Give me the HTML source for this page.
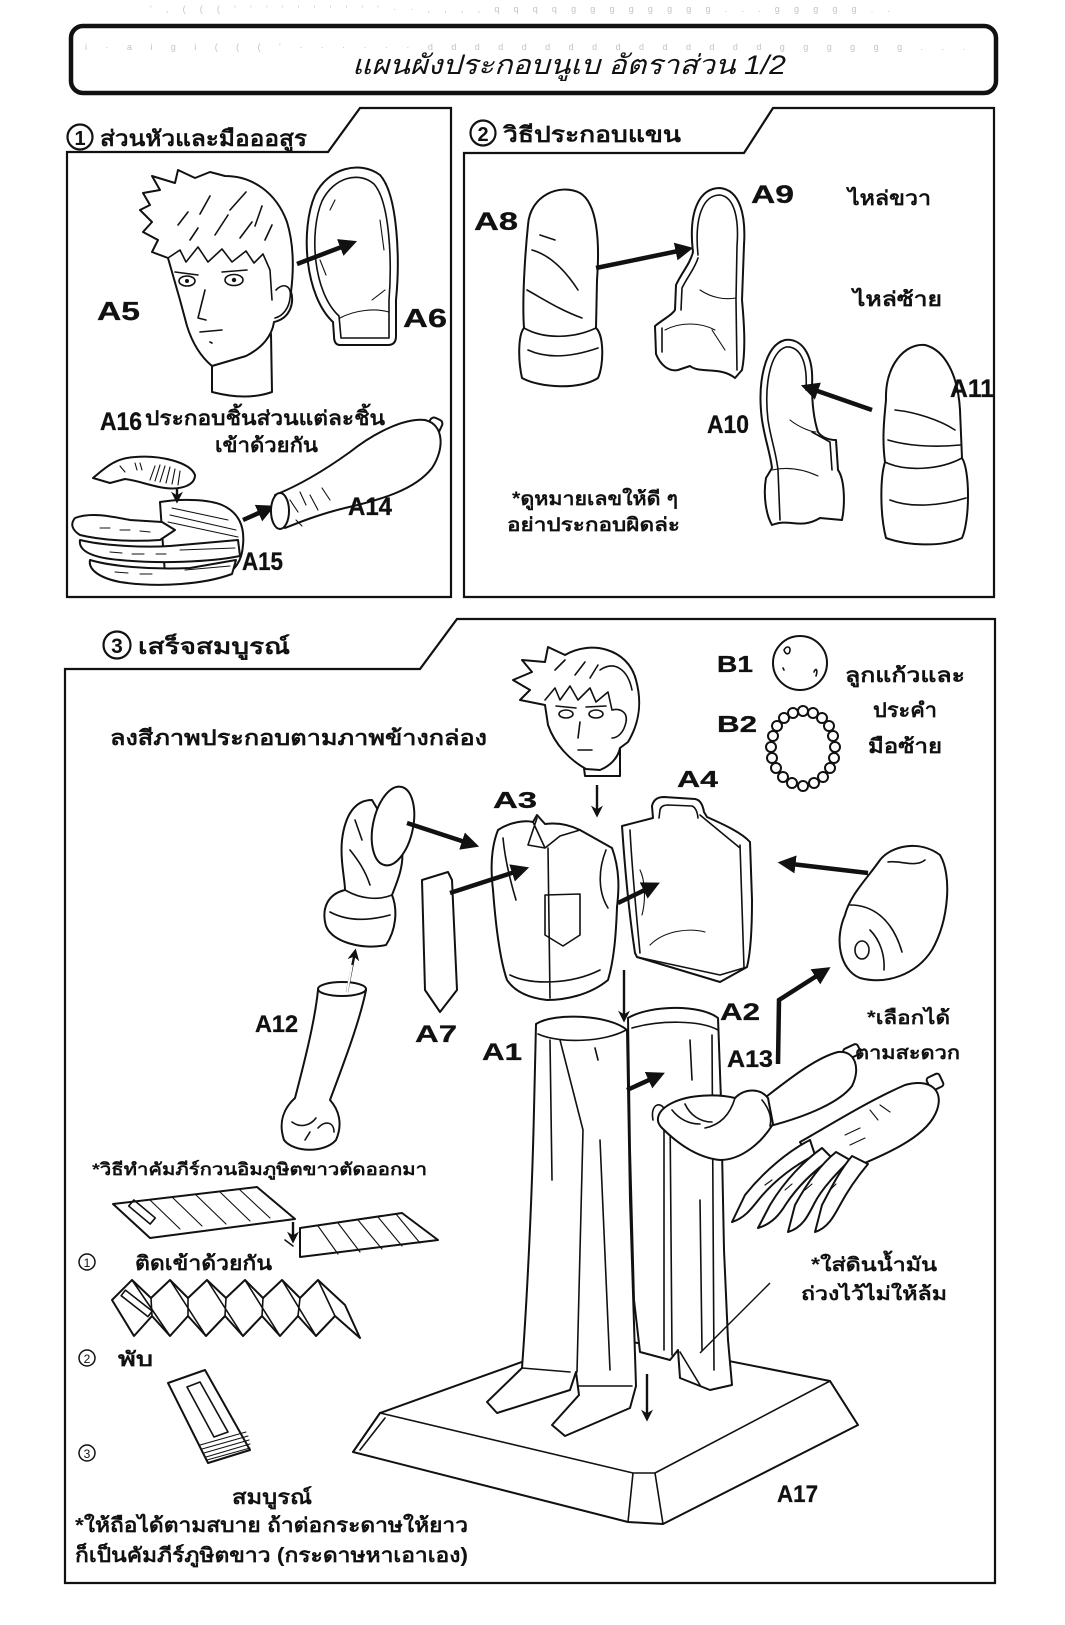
<!DOCTYPE html>
<html><head><meta charset="utf-8"><style>
html,body{margin:0;padding:0;background:#fff;}
svg{display:block;}
.t{font-family:"Liberation Sans","DejaVu Sans","Noto Sans CJK SC",sans-serif;font-weight:bold;fill:#111;}
.l{font-family:"Liberation Sans","DejaVu Sans",sans-serif;font-weight:bold;fill:#111;stroke:#111;stroke-width:0.3;}
.d{fill:#fff;stroke:#111;stroke-width:2;stroke-linejoin:round;stroke-linecap:round;}
.n{fill:none;stroke:#111;stroke-width:1.6;stroke-linecap:round;stroke-linejoin:round;}
.h{fill:none;stroke:#111;stroke-width:1.1;stroke-linecap:round;}
.a{fill:none;stroke:#111;stroke-width:4.5;stroke-linecap:butt;}
.at{fill:none;stroke:#111;stroke-width:2.4;}
</style></head><body>
<svg width="1065" height="1625" viewBox="0 0 1065 1625" xmlns="http://www.w3.org/2000/svg">
<defs>
<marker id="ah" viewBox="0 0 10 10" refX="7" refY="5" markerWidth="4" markerHeight="4" orient="auto"><path d="M0,0 L10,5 L0,10 Z" fill="#111"/></marker>
<marker id="ah2" viewBox="0 0 10 10" refX="7" refY="5" markerWidth="5" markerHeight="5" orient="auto"><path d="M0,0 L10,5 L0,10 L3,5 Z" fill="#111"/></marker>
</defs>
<rect width="1065" height="1625" fill="#fff"/>

<!-- faint bleed-through marks -->
<g fill="#c4c4c4" font-family="Liberation Sans" font-size="9">
<text x="150" y="12" textLength="740" lengthAdjust="spacing">'  ,  ( ( ( ' ' ' ' ' ' ' ' '   '   ·  ·  , , , , q q q q g g g g g g g g   . . .   g g g g g   . .</text>
<text x="85" y="50" textLength="880" lengthAdjust="spacing">i  · a i g i  ( ( ( '  · ·  ·   ·  ·   · d d d d d d d d d d d d d d d  g g g g g g  . . .</text>
</g>

<!-- Title box -->
<rect x="71" y="26" width="925" height="67" rx="12" ry="12" fill="none" stroke="#111" stroke-width="4.5"/>
<text x="352" y="74" font-family="Liberation Sans,DejaVu Sans,sans-serif" font-style="italic" font-size="27" fill="#111" textLength="434" lengthAdjust="spacingAndGlyphs">แผนผังประกอบนูเบ อัตราส่วน 1/2</text>

<!-- Panel frames -->
<path d="M67,152 L328,152 L360,108 L451,108 L451,597 L67,597 Z" fill="none" stroke="#111" stroke-width="2.2"/>
<path d="M464,153 L744,153 L773,108 L994,108 L994,597 L464,597 Z" fill="none" stroke="#111" stroke-width="2.2"/>
<path d="M65,669 L420,669 L457,619 L995,619 L995,1583 L65,1583 Z" fill="none" stroke="#111" stroke-width="2.2"/>

<!-- headers -->
<circle cx="80" cy="137" r="12.5" fill="none" stroke="#111" stroke-width="2.2"/>
<text x="80" y="145" text-anchor="middle" class="t" font-size="20" font-weight="normal">1</text>
<text x="100" y="146" class="t" font-size="22" textLength="207" lengthAdjust="spacingAndGlyphs">ส่วนหัวและมือออสูร</text>
<circle cx="483" cy="133" r="12.5" fill="none" stroke="#111" stroke-width="2.2"/>
<text x="483" y="141" text-anchor="middle" class="t" font-size="20" font-weight="normal">2</text>
<text x="503" y="142" class="t" font-size="22" textLength="178" lengthAdjust="spacingAndGlyphs">วิธีประกอบแขน</text>
<circle cx="117" cy="645" r="13.5" fill="none" stroke="#111" stroke-width="2.2"/>
<text x="117" y="653" text-anchor="middle" class="t" font-size="21" font-weight="normal">3</text>
<text x="138" y="654" class="t" font-size="22" textLength="152" lengthAdjust="spacingAndGlyphs">เสร็จสมบูรณ์</text>

<!-- ===== PANEL 1 ===== -->
<g>
<path class="d" d="M212,362 L212,392 C235,398 255,398 272,392 L271,334 Z"/>
<path class="d" d="M143,193 L160,190 L152,176 L175,183 L178,170 L195,178 L210,172 L225,176 C252,176 276,192 287,222 C294,245 294,268 291,292 C294,300 292,318 274,322 C272,336 262,348 246,356 L212,366 C200,356 192,342 187,326 L180,300 L172,272 L168,258 L152,252 L158,240 L143,232 L152,222 L140,210 L150,205 Z"/>
<path class="n" d="M168,258 L180,250 L186,262 L198,247 L208,262 L222,249 L232,262 L246,251 L254,263 L263,254 L270,270 L272,300"/>
<path class="n" d="M200,214 L210,196 M230,210 L246,192 M255,226 L262,206 M178,225 L188,212 M215,235 L228,215 M240,238 L252,222 M190,240 L198,228 M265,240 L272,225"/>
<path class="n" d="M276,290 C284,282 292,286 290,298 C289,308 283,316 275,318"/>
<ellipse cx="187" cy="281" rx="8" ry="5" class="n"/><circle cx="187" cy="281" r="2" fill="#111"/>
<ellipse cx="234" cy="280" rx="9" ry="5.5" class="n"/><circle cx="234" cy="280" r="2.2" fill="#111"/>
<path class="n" d="M175,272 L198,275 M222,272 L247,270 M205,290 L198,318 L206,320 M200,332 L222,330 M210,342 L212,343"/>
</g>
<path class="d" d="M333,322 C305,296 300,230 315,195 C328,168 360,160 380,175 C398,195 400,260 396,300 L396,336 Q396,345 388,345 L340,345 Q334,345 334,336 Z"/>
<path class="n" d="M339,316 C313,292 309,232 322,201 C334,177 359,171 374,184 C390,202 392,262 389,300 L389,338 L341,338 Z"/>
<path class="h" d="M340,318 C355,310 375,308 389,312 M330,210 L335,200 M380,220 L384,250 M372,300 L385,290 M320,260 L326,275"/>
<line x1="297" y1="264" x2="352" y2="243" class="a" marker-end="url(#ah)"/>
<text x="97" y="320" class="l" font-size="26" textLength="43" lengthAdjust="spacingAndGlyphs">A5</text>
<text x="403" y="327" class="l" font-size="26" textLength="44" lengthAdjust="spacingAndGlyphs">A6</text>

<text x="100" y="430" class="l" font-size="25" textLength="42" lengthAdjust="spacingAndGlyphs">A16</text>
<text x="145" y="425" class="t" font-size="20" textLength="240" lengthAdjust="spacingAndGlyphs">ประกอบชิ้นส่วนแต่ละชิ้น</text>
<text x="215" y="452" class="t" font-size="20" textLength="103" lengthAdjust="spacingAndGlyphs">เข้าด้วยกัน</text>

<!-- A15 claw hand -->
<g>
<path class="d" d="M160,502 C185,498 210,500 222,505 C238,512 245,525 243,545 C242,560 236,572 218,578 C200,584 180,580 165,575 Z"/>
<path class="d" d="M75,518 C90,512 110,516 130,520 L162,522 L175,530 L160,540 C130,542 100,540 80,535 C72,530 70,524 75,518 Z"/>
<path class="d" d="M80,540 C100,545 140,548 170,546 L238,540 L240,556 C210,562 160,564 120,560 C95,558 78,552 80,540 Z"/>
<path class="d" d="M90,560 C110,566 150,570 190,568 L236,560 L232,574 C205,584 160,588 120,582 C100,578 88,570 90,560 Z"/>
<path class="d" d="M93,478 C105,468 115,458 135,457 C160,455 190,462 195,475 C195,485 182,490 165,488 C150,486 140,481 125,479 L110,483 Z"/>
<path class="h" d="M155,466 L150,480 M160,465 L155,481 M165,466 L160,482 M170,467 L166,483 M175,469 L172,484 M180,471 L178,485 M120,466 L125,472 M135,463 L137,470 M140,463 L142,470"/>
<path class="h" d="M170,515 L236,530 M168,522 L238,537 M172,508 L228,520 M100,528 L110,528 M120,530 L130,530 M140,531 L150,532 M110,552 L122,553 M132,554 L144,554 M156,554 L166,554 M180,550 L235,548 M115,572 L128,573 M140,574 L152,574 M185,570 L230,566"/>
<line x1="177" y1="488" x2="177" y2="500" class="at" marker-end="url(#ah2)"/>
</g>
<line x1="243" y1="520" x2="270" y2="508" class="a" marker-end="url(#ah)"/>
<g>
<rect x="428" y="418" width="13" height="16" rx="4" transform="rotate(25 434 426)" class="d"/>
<path class="d" d="M275,495 C300,485 325,470 350,452 C375,432 405,418 425,420 C445,425 444,450 432,468 C415,490 380,500 345,508 C320,514 300,522 285,528 Z"/>
<ellipse cx="280" cy="511" rx="9" ry="18" class="d"/>
<path class="h" d="M290,500 L298,512 M300,492 L306,505 M310,495 L318,510 M322,488 L330,500 M296,520 L302,526"/>
</g>
<text x="348" y="515" class="l" font-size="25" textLength="44" lengthAdjust="spacingAndGlyphs">A14</text>
<text x="242" y="570" class="l" font-size="25" textLength="41" lengthAdjust="spacingAndGlyphs">A15</text>

<!-- ===== PANEL 2 ===== -->
<text x="474" y="230" class="l" font-size="25" textLength="44" lengthAdjust="spacingAndGlyphs">A8</text>
<path class="d" d="M528,225 C530,195 560,183 580,193 C597,203 600,240 597,280 L596,328 C604,335 604,365 598,378 C580,390 540,388 522,378 C518,360 518,335 524,328 C522,300 525,255 528,225 Z"/>
<path class="n" d="M524,328 C545,340 575,338 596,328 M532,250 C550,255 565,270 578,290 M527,290 C545,300 560,310 582,318 M528,350 C550,360 575,356 598,348 M540,235 L555,240"/>
<line x1="596" y1="268" x2="688" y2="249" class="a" marker-end="url(#ah)"/>
<path class="d" d="M693,252 C688,210 700,188 720,188 C740,190 746,215 744,245 L742,300 C744,322 746,350 742,370 L735,378 C720,366 700,374 690,366 L678,370 C668,372 660,364 656,354 L655,326 C665,318 672,315 675,310 L676,285 C682,272 690,264 693,252 Z"/>
<path class="n" d="M698,255 C694,215 704,195 720,195 C735,197 739,220 737,246 L736,300 L737,370 M681,310 L682,288 C688,276 695,268 698,258 M662,328 L662,352"/>
<path class="h" d="M665,330 C680,322 700,322 715,330 M700,290 C712,298 725,300 736,298 M712,330 L725,350"/>
<text x="751" y="203" class="l" font-size="25" textLength="43" lengthAdjust="spacingAndGlyphs">A9</text>
<text x="848" y="205" class="t" font-size="20" textLength="83" lengthAdjust="spacingAndGlyphs">ไหล่ขวา</text>
<text x="853" y="306" class="t" font-size="20" textLength="89" lengthAdjust="spacingAndGlyphs">ไหล่ซ้าย</text>
<path class="d" d="M812,385 C814,352 800,338 785,340 C765,345 757,382 762,420 C765,440 770,452 772,468 L766,478 C763,495 766,515 772,525 C790,518 800,530 820,518 L842,520 C845,505 845,480 838,470 L836,440 C830,440 822,438 818,432 C814,420 812,405 812,385 Z"/>
<path class="n" d="M806,390 C808,358 798,346 786,347 C770,352 764,385 768,420 C771,440 776,452 778,470 L780,520 M812,432 L830,442 L832,470"/>
<path class="h" d="M772,470 C790,466 805,470 818,476 M790,420 C800,428 812,432 816,432"/>
<line x1="872" y1="410" x2="806" y2="387" class="a" marker-end="url(#ah)"/>
<text x="707" y="433" class="l" font-size="25" textLength="42" lengthAdjust="spacingAndGlyphs">A10</text>
<path class="d" d="M886,400 C885,365 905,343 925,345 C945,350 958,375 960,410 L962,458 C970,470 970,520 962,538 C940,548 905,545 886,538 C880,515 880,478 885,462 C882,440 884,420 886,400 Z"/>
<path class="n" d="M885,462 C905,472 940,470 962,458 M895,410 C915,412 940,420 955,430 M888,440 C905,445 930,448 960,445 M890,500 C910,508 940,506 966,498"/>
<text x="950" y="397" class="l" font-size="25" textLength="44" lengthAdjust="spacingAndGlyphs">A11</text>
<text x="512" y="505" class="t" font-size="19" textLength="166" lengthAdjust="spacingAndGlyphs">*ดูหมายเลขให้ดี ๆ</text>
<text x="507" y="531" class="t" font-size="19" textLength="173" lengthAdjust="spacingAndGlyphs">อย่าประกอบผิดล่ะ</text>

<!-- ===== PANEL 3 ===== -->
<text x="110" y="745" class="t" font-size="21" textLength="377" lengthAdjust="spacingAndGlyphs">ลงสีภาพประกอบตามภาพข้างกล่อง</text>

<g>
<path class="d" d="M583,760 L585,776 L620,776 L620,745 Z"/>
<path class="d" d="M520,700 L530,690 L513,680 L532,672 L522,660 L545,662 L548,647 L565,655 C590,640 628,648 636,680 C642,702 640,722 628,742 L620,748 C618,758 610,766 600,770 L586,769 C570,760 555,745 548,725 L545,705 Z"/>
<path class="n" d="M545,700 L555,688 L560,700 L570,686 L578,700 L590,688 L596,702 L608,692 L612,710 M612,710 C620,708 628,712 626,722 C624,732 618,738 612,738 M600,670 C615,660 628,670 632,690 M555,670 L565,660 M575,675 L585,662 M590,678 L598,665"/>
<ellipse cx="566" cy="714" rx="7" ry="4" class="n"/><ellipse cx="596" cy="714" rx="7" ry="4" class="n"/>
<path class="n" d="M556,706 L576,708 M586,707 L606,706 M580,722 L578,738 M578,750 L592,750"/>
</g>
<text x="493" y="808" class="l" font-size="23" textLength="44" lengthAdjust="spacingAndGlyphs">A3</text>
<text x="677" y="787" class="l" font-size="23" textLength="41" lengthAdjust="spacingAndGlyphs">A4</text>
<text x="717" y="672" class="l" font-size="23" textLength="36" lengthAdjust="spacingAndGlyphs">B1</text>
<circle cx="800" cy="663" r="27" class="d"/>
<path class="n" d="M784,650 C786,646 790,646 790,650 C790,654 786,656 784,650 M814,672 C816,667 818,670 816,676 M783,668 L784,670"/>
<text x="717" y="732" class="l" font-size="23" textLength="40" lengthAdjust="spacingAndGlyphs">B2</text>
<g class="d" stroke-width="1.6">
<circle cx="803" cy="711" r="5"/><circle cx="813" cy="713" r="5"/><circle cx="822" cy="718" r="5"/><circle cx="829" cy="726" r="5"/><circle cx="833" cy="736" r="5"/><circle cx="835" cy="747" r="5"/><circle cx="834" cy="758" r="5"/><circle cx="830" cy="768" r="5"/><circle cx="823" cy="777" r="5"/><circle cx="814" cy="783" r="5"/><circle cx="803" cy="786" r="5"/><circle cx="792" cy="783" r="5"/><circle cx="783" cy="777" r="5"/><circle cx="776" cy="768" r="5"/><circle cx="772" cy="758" r="5"/><circle cx="771" cy="747" r="5"/><circle cx="773" cy="736" r="5"/><circle cx="777" cy="726" r="5"/><circle cx="784" cy="718" r="5"/><circle cx="793" cy="713" r="5"/>
</g>
<text x="845" y="682" class="t" font-size="20" textLength="120" lengthAdjust="spacingAndGlyphs">ลูกแก้วและ</text>
<text x="873" y="717" class="t" font-size="20" textLength="64" lengthAdjust="spacingAndGlyphs">ประคำ</text>
<text x="868" y="753" class="t" font-size="20" textLength="74" lengthAdjust="spacingAndGlyphs">มือซ้าย</text>

<!-- left sleeve -->
<g>
<path class="d" d="M372,800 C355,800 345,815 342,840 C340,860 345,880 345,890 C328,894 321,908 326,926 C332,942 362,950 386,945 C396,930 398,910 392,895 C398,880 404,865 402,850 Z"/>
<ellipse cx="393" cy="826" rx="20" ry="40" transform="rotate(12 393 826)" class="d"/>
<path class="n" d="M345,890 C362,900 380,900 392,895 M350,850 C358,860 365,870 370,885 M355,820 L362,840 M330,912 C345,920 365,922 390,915"/>
</g>
<path class="d" d="M422,880 L448,872 L452,880 L457,990 L440,1012 L425,990 Z"/>
<!-- A3 shirt -->
<g>
<path class="d" d="M498,830 C510,822 525,820 533,822 L537,815 L545,824 C560,822 572,826 580,830 L612,848 C620,870 619,890 617,907 C616,935 614,960 608,980 C590,995 565,1000 547,1000 C530,998 515,992 507,980 C500,960 496,930 493,890 C490,865 492,845 498,830 Z"/>
<path class="n" d="M533,822 L545,848 L560,836 L580,830 M537,818 L528,845 L545,848 M548,848 L550,998 M545,895 L580,894 L580,935 L563,946 L545,935 Z M503,838 C505,860 510,880 516,900 M606,850 C598,870 598,892 608,908 M510,975 C530,985 570,985 600,970"/>
</g>
<!-- A4 shell -->
<g>
<path class="d" d="M622,826 L653,818 L652,806 Q654,797 664,797 L695,799 Q702,800 704,812 L707,817 C725,825 742,833 750,842 L752,900 C752,935 750,955 747,967 L720,982 L637,957 L635,953 C630,920 625,870 622,826 Z"/>
<path class="n" d="M659,818 L660,810 Q661,805 668,805 L692,806 Q697,808 698,818 M630,830 C632,870 636,910 640,953 M740,845 L744,968 M637,957 L720,975 L747,967 M700,815 L740,848"/>
<path class="h" d="M650,945 C665,930 690,928 705,932 M640,870 C645,880 646,900 642,915"/>
</g>
<!-- right sleeve -->
<g>
<path class="d" d="M880,860 C892,845 920,840 940,855 C952,875 949,920 932,950 C916,975 886,985 860,978 C840,970 834,940 845,915 C850,895 866,880 880,860 Z"/>
<path class="n" d="M850,905 C872,905 892,918 902,952 M888,862 C900,860 915,868 925,860 M870,930 C880,940 885,955 884,970"/>
<ellipse cx="862" cy="950" rx="7" ry="9" class="n"/>
</g>

<!-- A12 forearm -->
<g>
<path class="d" d="M318,990 C315,1020 305,1060 295,1098 C284,1108 278,1122 284,1140 C294,1153 325,1153 336,1140 C343,1124 339,1110 330,1100 C345,1060 360,1020 366,990 Z"/>
<ellipse cx="342" cy="989" rx="24" ry="7" class="d"/>
<path class="n" d="M292,1122 C300,1128 310,1126 316,1118 M318,1128 C325,1120 334,1122 334,1132 M305,1140 L310,1132"/>
</g>
<text x="255" y="1032" class="l" font-size="24" textLength="43" lengthAdjust="spacingAndGlyphs">A12</text>
<text x="415" y="1042" class="l" font-size="24" textLength="42" lengthAdjust="spacingAndGlyphs">A7</text>
<text x="482" y="1060" class="l" font-size="24" textLength="40" lengthAdjust="spacingAndGlyphs">A1</text>
<text x="720" y="1020" class="l" font-size="24" textLength="40" lengthAdjust="spacingAndGlyphs">A2</text>
<text x="727" y="1067" class="l" font-size="24" textLength="46" lengthAdjust="spacingAndGlyphs">A13</text>

<!-- base A17 -->
<path class="d" d="M380,1413 L597,1335 L830,1381 L858,1425 L663,1524 L628,1522 L353,1452 Z"/>
<path class="n" d="M380,1413 L633,1473 L655,1473 L830,1381 M633,1473 L628,1522 M655,1473 L663,1524 M380,1413 L353,1452 M830,1381 L858,1425 M385,1418 L360,1450"/>
<text x="777" y="1502" class="l" font-size="24" textLength="41" lengthAdjust="spacingAndGlyphs">A17</text>

<!-- A2 back pants -->
<g>
<path class="d" d="M628,1018 C650,1005 700,1004 718,1018 L721,1100 L724,1250 L728,1340 L732,1385 L710,1390 L680,1378 L678,1350 L670,1360 L640,1352 L634,1300 L630,1150 Z"/>
<path class="n" d="M632,1028 C660,1020 700,1020 718,1030 M712,1035 L714,1370 M664,1110 L664,1350 M670,1110 L672,1355 M653,1120 C650,1105 660,1100 665,1110 M690,1040 L692,1080 M700,1200 L702,1350 M680,1352 L700,1385"/>
</g>
<!-- A1 front pants -->
<g>
<path class="d" d="M536,1024 L534,1110 C532,1200 527,1300 522,1368 L487,1402 L497,1413 L570,1390 L576,1372 L579,1395 L552,1425 L565,1436 L630,1408 L636,1386 L630,1200 L627,1030 C610,1015 555,1012 536,1024 Z"/>
<path class="n" d="M538,1034 C560,1044 605,1042 626,1030 M583,1130 L577,1372 M550,1040 L552,1180 M560,1040 C565,1060 570,1080 583,1130 M595,1048 L598,1060 M600,1140 C602,1200 606,1280 610,1370 M522,1368 L570,1372 M579,1386 L632,1386"/>
</g>

<!-- A13 open hand -->
<g>
<rect x="844" y="1046" width="16" height="11" rx="3" transform="rotate(-25 852 1052)" class="d"/>
<path class="d" d="M762,1100 C788,1080 815,1058 838,1052 C855,1050 861,1068 852,1086 C840,1102 808,1116 770,1126 Z"/>
<path class="d" d="M768,1098 C760,1088 745,1088 735,1098 C718,1094 690,1094 672,1103 C658,1110 654,1120 662,1128 C680,1146 700,1158 720,1160 C742,1160 762,1142 773,1124 Z"/>
<path class="n" d="M762,1100 C770,1110 772,1118 770,1126 M672,1110 C680,1120 690,1124 700,1124 M685,1104 C690,1115 700,1122 712,1122 M735,1098 C730,1115 720,1125 705,1128"/>
</g>
<!-- A16 claw -->
<g>
<rect x="928" y="1075" width="14" height="14" rx="3" transform="rotate(-25 935 1082)" class="d"/>
<path class="d" d="M800,1142 C830,1125 870,1100 905,1085 C930,1078 944,1090 937,1110 C928,1136 890,1152 858,1166 L815,1168 Z"/>
<path class="d" d="M810,1140 C790,1150 765,1170 745,1195 L732,1222 C745,1218 752,1208 760,1198 C775,1180 795,1165 815,1155 Z"/>
<path class="d" d="M822,1148 C805,1160 785,1180 770,1205 L758,1228 C772,1224 780,1214 786,1204 C798,1186 815,1170 832,1158 Z"/>
<path class="d" d="M836,1152 C820,1165 806,1185 795,1205 L788,1232 C802,1228 808,1216 814,1204 C822,1188 838,1172 850,1160 Z"/>
<path class="d" d="M852,1156 C840,1170 830,1190 822,1205 L815,1232 C828,1228 834,1216 840,1205 C848,1190 858,1176 868,1164 Z"/>
<path class="h" d="M765,1185 L772,1180 M785,1190 L792,1184 M805,1190 L812,1184 M830,1190 L836,1184 M845,1135 L860,1128 M850,1145 L865,1138 M870,1110 L878,1120 M880,1105 L890,1112"/>
</g>
<text x="867" y="1024" class="t" font-size="19" textLength="83" lengthAdjust="spacingAndGlyphs">*เลือกได้</text>
<text x="855" y="1059" class="t" font-size="19" textLength="105" lengthAdjust="spacingAndGlyphs">ตามสะดวก</text>

<text x="811" y="1271" class="t" font-size="19" textLength="126" lengthAdjust="spacingAndGlyphs">*ใส่ดินน้ำมัน</text>
<text x="801" y="1300" class="t" font-size="19" textLength="146" lengthAdjust="spacingAndGlyphs">ถ่วงไว้ไม่ให้ล้ม</text>
<line x1="770" y1="1283" x2="700" y2="1353" stroke="#111" stroke-width="1.5"/>

<!-- panel 3 arrows (on top) -->
<line x1="597" y1="785" x2="597" y2="814" class="at" marker-end="url(#ah2)"/>
<line x1="407" y1="823" x2="474" y2="845" class="a" marker-end="url(#ah)"/>
<line x1="450" y1="893" x2="524" y2="869" class="a" marker-end="url(#ah)"/>
<line x1="618" y1="903" x2="655" y2="885" class="a" marker-end="url(#ah)"/>
<line x1="868" y1="873" x2="783" y2="863" class="a" marker-end="url(#ah)"/>
<line x1="347" y1="992" x2="355" y2="952" class="at" stroke-width="5" marker-end="url(#ah2)"/>
<line x1="347" y1="992" x2="352" y2="965" stroke="#fff" stroke-width="2"/>
<line x1="624" y1="970" x2="624" y2="1019" class="at" marker-end="url(#ah2)"/>
<line x1="627" y1="1090" x2="660" y2="1075" class="a" marker-end="url(#ah)"/>
<line x1="647" y1="1374" x2="647" y2="1418" class="at" marker-end="url(#ah2)"/>
<polyline points="778,1064 779,1000 826,970" class="a" stroke-width="3.5" stroke-linejoin="miter" marker-end="url(#ah)"/>

<!-- lower-left instructions -->
<text x="92" y="1175" class="t" font-size="17" textLength="335" lengthAdjust="spacingAndGlyphs">*วิธีทำคัมภีร์กวนอิมภูษิตขาวตัดออกมา</text>
<g>
<path class="d" d="M113,1204 L257,1187 L295,1219 L150,1238 Z"/>
<path class="h" d="M150,1200 L180,1229 M172,1197 L202,1226 M196,1195 L226,1224 M220,1192 L250,1221 M240,1190 L270,1218"/>
<rect x="128" y="1208" width="28" height="8" transform="rotate(40 142 1212)" class="n"/>
<path class="d" d="M300,1228 L402,1213 L438,1240 L300,1257 Z"/>
<path class="h" d="M318,1226 L338,1254 M338,1223 L360,1252 M358,1220 L382,1249 M378,1217 L402,1246 M396,1214 L420,1243"/>
<line x1="293" y1="1222" x2="293" y2="1240" class="at" stroke-width="2" marker-end="url(#ah2)"/>
<path class="n" d="M285,1240 L293,1246"/>
</g>
<circle cx="87" cy="1262" r="8" fill="none" stroke="#111" stroke-width="1.5"/>
<text x="87" y="1267" text-anchor="middle" font-family="Liberation Sans" font-size="12" fill="#111">1</text>
<text x="135" y="1270" class="t" font-size="20" textLength="137" lengthAdjust="spacingAndGlyphs">ติดเข้าด้วยกัน</text>
<g>
<path class="d" d="M112,1300 L132,1280 L151,1298 L170,1280 L188,1298 L207,1280 L226,1298 L245,1280 L263,1298 L282,1280 L300,1298 L318,1280 L345,1305 L360,1338 L335,1316 L316,1336 L298,1316 L280,1336 L262,1316 L243,1336 L225,1316 L206,1336 L188,1316 L170,1336 L152,1316 L134,1336 Z"/>
<path class="n" d="M151,1298 L152,1316 M188,1298 L188,1316 M226,1298 L225,1316 M263,1298 L262,1316 M300,1298 L298,1316 M132,1280 L170,1336 M170,1280 L206,1336 M207,1280 L243,1336 M245,1280 L280,1336 M282,1280 L316,1336 M318,1280 L335,1316"/>
<rect x="120" y="1300" width="34" height="7" transform="rotate(38 137 1303)" class="n"/>
</g>
<circle cx="87" cy="1358" r="8" fill="none" stroke="#111" stroke-width="1.5"/>
<text x="87" y="1363" text-anchor="middle" font-family="Liberation Sans" font-size="12" fill="#111">2</text>
<text x="118" y="1366" class="t" font-size="20" textLength="35" lengthAdjust="spacingAndGlyphs">พับ</text>
<g>
<path class="d" d="M168,1383 L205,1370 L250,1450 L208,1463 Z"/>
<path class="n" d="M187,1387 L200,1382 L228,1432 L214,1437 Z"/>
<path class="h" d="M200,1445 L246,1432 M202,1449 L248,1436 M204,1453 L249,1440 M206,1457 L250,1444 M207,1460 L250,1448"/>
</g>
<circle cx="87" cy="1453" r="8" fill="none" stroke="#111" stroke-width="1.5"/>
<text x="87" y="1458" text-anchor="middle" font-family="Liberation Sans" font-size="12" fill="#111">3</text>
<text x="232" y="1504" class="t" font-size="20" textLength="80" lengthAdjust="spacingAndGlyphs">สมบูรณ์</text>
<text x="75" y="1532" class="t" font-size="20" textLength="393" lengthAdjust="spacingAndGlyphs">*ให้ถือได้ตามสบาย ถ้าต่อกระดาษให้ยาว</text>
<text x="75" y="1562" class="t" font-size="20" textLength="393" lengthAdjust="spacingAndGlyphs">ก็เป็นคัมภีร์ภูษิตขาว (กระดาษหาเอาเอง)</text>
</svg>
</body></html>
